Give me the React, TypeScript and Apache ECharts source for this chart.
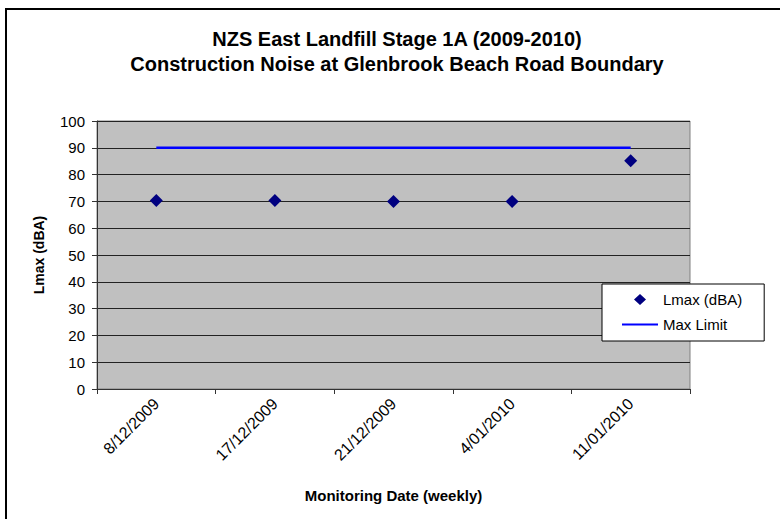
import React, { useEffect, useRef } from "react";
import * as echarts from "echarts";

const categories = ["8/12/2009", "17/12/2009", "21/12/2009", "4/01/2010", "11/01/2010"];
const lmaxValues = [70.3, 70.3, 70, 70, 85.2];
const maxLimitValues = [90, 90, 90, 90, 90];
const titleLines = [
  "NZS East Landfill Stage 1A (2009-2010)",
  "Construction Noise at Glenbrook Beach Road Boundary",
];
const seriesNames = ["Lmax (dBA)", "Max Limit"];
const yAxisName = "Lmax (dBA)";
const xAxisName = "Monitoring Date (weekly)";

const FONT = 'Arial, "Liberation Sans", sans-serif';

// legend icons: bounding boxes padded to the full 36x12 icon cell so they are not stretched
const DIAMOND_ICON =
  "path://M18,0.5 L24,6 L18,11.5 L12,6 Z M0,6 L0.001,6 L0,6.001 Z M36,6 L35.999,6 L36,6.001 Z M18,0 L18.001,0 L18,0.001 Z M18,12 L18.001,12 L18,11.999 Z";
const LINE_ICON =
  "path://M0,5 L36,5 L36,7 L0,7 Z M0,0 L0.001,0 L0,0.001 Z M0,12 L0.001,12 L0,11.999 Z";

export default function App() {
  const ref = useRef<HTMLDivElement>(null);
  useEffect(() => {
    document.body.style.margin = "0";
    if (!ref.current) return;
    const chart = echarts.init(ref.current, null, { renderer: "svg" });
    chart.setOption({
      animation: false,
      backgroundColor: "#ffffff",
      textStyle: { fontFamily: FONT },
      title: {
        text: titleLines.join("\n"),
        left: 397,
        top: 26,
        padding: 0,
        textAlign: "center",
        textStyle: {
          fontFamily: FONT,
          fontSize: 20,
          fontWeight: "bold",
          color: "#000",
          lineHeight: 25,
        },
      },
      graphic: [
        {
          type: "rect",
          z: -10,
          shape: { x: 6, y: 9, width: 820, height: 560 },
          style: { fill: "none", stroke: "#000", lineWidth: 2 },
          silent: true,
        },
      ],
      legend: {
        orient: "vertical",
        left: 602,
        top: 284,
        padding: [8, 22, 9, 20],
        itemGap: 10,
        itemWidth: 36,
        itemHeight: 12,
        backgroundColor: "#ffffff",
        borderColor: "#000",
        borderWidth: 1,
        borderRadius: 0,
        textStyle: { fontFamily: FONT, fontSize: 15, color: "#000", lineHeight: 12 },
        data: [
          { name: seriesNames[0], icon: DIAMOND_ICON, itemStyle: { color: "#000080", borderWidth: 0 } },
          { name: seriesNames[1], icon: LINE_ICON, itemStyle: { color: "#0000FF", borderWidth: 0 } },
        ],
      },
      grid: {
        left: 97,
        top: 121,
        width: 593,
        height: 268,
        show: true,
        backgroundColor: "#C0C0C0",
        borderColor: "#808080",
        borderWidth: 1,
      },
      xAxis: {
        type: "category",
        data: categories,
        boundaryGap: true,
        name: xAxisName,
        nameLocation: "middle",
        nameGap: 99,
        nameTextStyle: { fontFamily: FONT, fontSize: 15, fontWeight: "bold", color: "#000" },
        axisLine: { show: true, lineStyle: { color: "#333", width: 1 } },
        axisTick: { show: true, length: 5, alignWithLabel: false, lineStyle: { color: "#333" } },
        axisLabel: {
          rotate: 45,
          margin: 12,
          fontFamily: FONT,
          fontSize: 16,
          color: "#000",
          interval: 0,
        },
        splitLine: { show: false },
      },
      yAxis: {
        type: "value",
        min: 0,
        max: 100,
        interval: 10,
        name: yAxisName,
        nameLocation: "middle",
        nameRotate: 90,
        nameGap: 51,
        nameTextStyle: { fontFamily: FONT, fontSize: 14, fontWeight: "bold", color: "#000" },
        axisLine: { show: true, lineStyle: { color: "#333", width: 1 } },
        axisTick: { show: true, length: 5, lineStyle: { color: "#333" } },
        axisLabel: { margin: 12, fontFamily: FONT, fontSize: 15, color: "#000" },
        splitLine: { show: true, lineStyle: { color: "#222", width: 1 } },
      },
      series: [
        {
          name: seriesNames[0],
          type: "scatter",
          data: lmaxValues,
          symbol: "diamond",
          symbolSize: 13,
          itemStyle: { color: "#000080", opacity: 1 },
          z: 3,
        },
        {
          name: seriesNames[1],
          type: "line",
          data: maxLimitValues,
          symbol: "none",
          showSymbol: false,
          lineStyle: { color: "#0000FF", width: 2.5 },
          itemStyle: { color: "#0000FF" },
          z: 2,
        },
      ],
    });
    return () => {
      chart.dispose();
    };
  }, []);
  return <div ref={ref} style={{ width: 780, height: 519 }} />;
}
